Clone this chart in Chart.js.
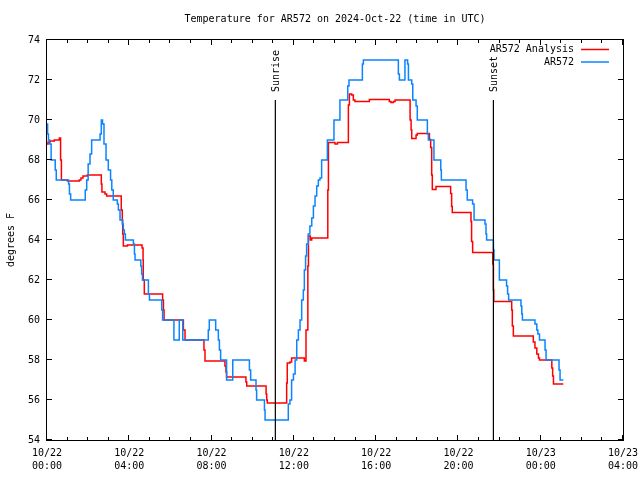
<!DOCTYPE html>
<html>
<head>
<meta charset="utf-8">
<script src="https://cdn.jsdelivr.net/npm/chart.js@4/dist/chart.umd.min.js"></script>
<style>
  body { margin: 0; background: #fff; }
  canvas { display: block; }
</style>
</head>
<body>
<canvas id="tempChart" width="640" height="480"></canvas>
<script>
// hours after 10/22 00:00 UTC, value starts at that time
const blueHours = [0.00, 0.03, 0.07, 0.13, 0.20, 0.40, 0.45, 1.05, 1.09, 1.15, 1.86, 1.93, 2.00, 2.09, 2.17,
    2.58, 2.64, 2.70, 2.77, 2.87, 2.98, 3.09, 3.15, 3.22, 3.42, 3.47, 3.55, 3.66, 3.71, 3.76, 3.81,
    4.20, 4.25, 4.28, 4.56, 4.60, 4.64, 4.93, 4.98, 5.58, 5.62, 6.17, 6.43, 6.60, 7.84, 7.89, 8.20,
    8.33, 8.38, 8.44, 8.73, 9.03, 9.84, 9.90, 10.16, 10.19, 10.57, 10.60, 11.73, 11.81, 11.89, 11.98,
    12.06, 12.14, 12.22, 12.30, 12.38, 12.46, 12.51, 12.57, 12.62, 12.70, 12.78, 12.87, 12.95, 13.03,
    13.11, 13.19, 13.27, 13.35, 13.63, 13.95, 14.24, 14.62, 14.68, 15.33, 15.38, 17.08, 17.13, 17.40,
    17.53, 17.57, 17.73, 17.78, 17.94, 18.00, 18.49, 18.54, 18.81, 19.14, 19.17, 20.37, 20.43, 20.69,
    20.76, 21.29, 21.34, 21.37, 21.70, 21.73, 21.99, 22.34, 22.39, 22.44, 23.04, 23.08, 23.11, 23.72,
    23.81, 23.86, 23.94, 24.21, 24.26, 24.89, 24.94, 25.10];
const blueTemps = [69.8, 69.3, 69.0, 68.8, 68.0, 67.5, 67.0, 66.8, 66.3, 66.0, 66.5, 67.0, 67.8, 68.3, 69.0,
    69.3, 70.0, 69.8, 68.8, 68.0, 67.5, 67.0, 66.5, 66.0, 65.8, 65.5, 65.0, 64.8, 64.5, 64.3, 64.0,
    63.8, 63.3, 63.0, 62.7, 62.3, 62.0, 61.3, 61.0, 60.5, 60.0, 59.0, 60.0, 59.0, 59.5, 60.0, 59.5,
    59.0, 58.5, 58.0, 57.0, 58.0, 57.5, 57.0, 56.5, 56.0, 55.5, 55.0, 55.8, 56.0, 57.0, 57.3,
    58.0, 59.0, 59.5, 60.0, 61.0, 61.5, 62.5, 63.2, 63.8, 64.3, 64.7, 65.1, 65.7, 66.2,
    66.7, 67.0, 67.1, 68.0, 69.0, 70.0, 71.0, 71.7, 72.0, 72.8, 73.0, 72.3, 72.0, 73.0,
    72.8, 72.0, 71.8, 71.0, 70.7, 70.0, 69.3, 69.0, 68.0, 67.5, 67.0, 66.5, 66.0, 65.8,
    65.0, 64.8, 64.3, 64.0, 63.5, 63.0, 62.0, 61.7, 61.3, 61.0, 60.7, 60.3, 60.0, 59.8,
    59.5, 59.3, 59.0, 58.5, 58.0, 57.5, 57.0, 57.0];

const redHours = [0.00, 0.05, 0.15, 0.35, 0.60, 0.66, 0.70, 0.99, 1.57, 1.65, 1.75, 1.96, 2.64, 2.67, 2.82,
    2.90, 3.61, 3.66, 3.68, 3.71, 3.91, 4.62, 4.67, 4.68, 4.73, 5.62, 5.66, 5.69, 6.63, 6.71, 7.63,
    7.68, 8.65, 8.70, 8.73, 9.67, 9.71, 10.65, 10.68, 10.71, 11.65, 11.68, 11.81, 11.89, 12.51, 12.59,
    12.68, 12.71, 12.80, 12.87, 13.65, 13.68, 14.00, 14.12, 14.65, 14.70, 14.81, 14.89, 14.97, 15.67,
    16.64, 16.72, 16.84, 16.92, 17.65, 17.70, 17.73, 17.94, 18.00, 18.59, 18.65, 18.70, 18.73, 18.91,
    19.62, 19.67, 19.70, 20.61, 20.64, 20.69, 21.67, 21.70, 21.72, 22.59, 22.62, 22.67, 23.64, 23.72,
    23.81, 23.89, 23.94, 24.54, 24.58, 24.62, 25.10];
const redTemps = [68.8, 68.9, 68.95, 69.0, 69.1, 68.0, 67.0, 66.95, 67.0, 67.1, 67.2, 67.25, 66.8, 66.4, 66.3,
    66.2, 65.5, 65.0, 64.3, 63.7, 63.75, 63.6, 63.0, 62.0, 61.3, 61.0, 60.5, 60.0, 59.5, 59.0, 58.5,
    57.95, 57.7, 57.4, 57.15, 56.9, 56.7, 56.3, 56.0, 55.85, 56.85, 57.85, 57.9, 58.1, 57.95, 59.5,
    62.7, 64.2, 64.0, 64.1, 66.5, 68.87, 68.8, 68.87, 70.75, 71.3, 71.25, 71.0, 70.92, 71.03,
    70.92, 70.87, 70.92, 71.0, 70.0, 69.5, 69.08, 69.25, 69.33, 69.03, 68.63, 67.25, 66.53, 66.67,
    66.33, 65.67, 65.37, 64.92, 63.92, 63.37, 62.8, 61.5, 60.92, 60.5, 59.7, 59.2, 58.9, 58.6,
    58.3, 58.1, 58.0, 57.6, 57.2, 56.8, 56.8];

const sunNames = ['Sunrise', 'Sunset'];
const sunHours = [11.1, 21.7];
const sunLineTop = 71;

const seriesNames = ['AR572 Analysis', 'AR572'];
const seriesColors = ['#ff0000', '#0a84ff'];

const FONT = "'DejaVu Sans Mono', 'Liberation Mono', monospace";
Chart.defaults.font.family = FONT;
Chart.defaults.font.size = 10;
Chart.defaults.color = '#000';

const toPoints = (hs, vs) => hs.map((h, i) => ({x: h, y: vs[i]}));

const sunSets = sunHours.map((h, i) => ({
    label: sunNames[i],
    data: [{x: h, y: 54}, {x: h, y: sunLineTop}],
    borderColor: '#000',
    borderWidth: 1.2,
    pointRadius: 0,
    order: 0
}));

// gnuplot-ish frame, inward ticks, title, legend, sun labels
const decor = {
    id: 'decor',
    afterDraw(chart) {
        const {ctx, chartArea: a, scales: {x, y}} = chart;
        ctx.save();
        ctx.strokeStyle = '#000';
        ctx.lineWidth = 1;
        ctx.strokeRect(a.left - 0.5, a.top - 0.5, a.right - a.left + 1, a.bottom - a.top + 1);

        ctx.beginPath();
        for (let h = x.min; h <= x.max; h++) {
            const px = Math.round(x.getPixelForValue(h)) - 0.5;
            const len = h % 4 === 0 ? 5 : 3;
            ctx.moveTo(px, a.bottom); ctx.lineTo(px, a.bottom - len);
            ctx.moveTo(px, a.top); ctx.lineTo(px, a.top + len);
        }
        y.ticks.forEach(t => {
            const py = Math.round(y.getPixelForValue(t.value)) - 0.5;
            ctx.moveTo(a.left, py); ctx.lineTo(a.left + 5, py);
            ctx.moveTo(a.right, py); ctx.lineTo(a.right - 5, py);
        });
        ctx.stroke();

        ctx.fillStyle = '#000';
        ctx.font = '10px ' + FONT;
        ctx.textBaseline = 'middle';

        ctx.textAlign = 'center';
        ctx.fillText('Temperature for AR572 on 2024-Oct-22 (time in UTC)', (a.left + a.right) / 2, 19);

        ctx.save();
        ctx.translate(11, (a.top + a.bottom) / 2);
        ctx.rotate(-Math.PI / 2);
        ctx.fillText('degrees F', 0, 0);
        ctx.restore();

        sunHours.forEach((h, i) => {
            ctx.save();
            ctx.translate(x.getPixelForValue(h) + 1, y.getPixelForValue(sunLineTop) - 8);
            ctx.rotate(-Math.PI / 2);
            ctx.textAlign = 'left';
            ctx.fillText(sunNames[i], 0, 0);
            ctx.restore();
        });

        seriesNames.forEach((name, i) => {
            const ly = a.top + 9.5 + i * 12.5;
            ctx.textAlign = 'right';
            ctx.fillText(name, a.right - 49, ly);
            ctx.strokeStyle = seriesColors[i];
            ctx.lineWidth = 1.5;
            ctx.beginPath();
            ctx.moveTo(a.right - 42, ly);
            ctx.lineTo(a.right - 14, ly);
            ctx.stroke();
        });
        ctx.restore();
    }
};

new Chart(document.getElementById('tempChart').getContext('2d'), {
    type: 'line',
    data: {
        datasets: [
            ...sunSets,
            {
                label: seriesNames[1],
                data: toPoints(blueHours, blueTemps),
                borderColor: seriesColors[1],
                borderWidth: 1.5,
                stepped: true,
                pointRadius: 0,
                order: 1
            },
            {
                label: seriesNames[0],
                data: toPoints(redHours, redTemps),
                borderColor: seriesColors[0],
                borderWidth: 1.5,
                stepped: true,
                pointRadius: 0,
                order: 2
            }
        ]
    },
    options: {
        responsive: false,
        animation: false,
        layout: { padding: { left: 0, right: 17, top: 40, bottom: 0 } },
        plugins: {
            legend: { display: false },
            tooltip: { enabled: false }
        },
        scales: {
            x: {
                type: 'linear',
                min: 0,
                max: 28,
                grid: { display: false, drawTicks: false },
                border: { display: false },
                ticks: {
                    stepSize: 4,
                    padding: 7,
                    maxRotation: 0,
                    autoSkip: false,
                    font: { size: 10, lineHeight: 1.3 },
                    callback: v => {
                        const day = 22 + Math.floor(v / 24);
                        const hr = String(v % 24).padStart(2, '0');
                        return ['10/' + day, hr + ':00'];
                    }
                },
                afterFit: s => { s.height = 40; s.paddingLeft = 0; s.paddingRight = 0; }
            },
            y: {
                min: 54,
                max: 74,
                grid: { display: false, drawTicks: false },
                border: { display: false },
                ticks: { stepSize: 2, padding: 7 },
                afterFit: s => { s.width = 47; s.paddingTop = 0; s.paddingBottom = 0; }
            }
        }
    },
    plugins: [decor]
});
</script>
</body>
</html>
